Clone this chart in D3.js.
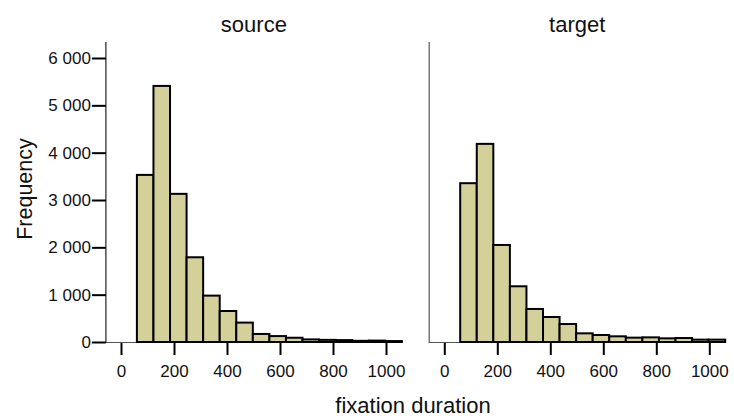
<!DOCTYPE html>
<html>
<head>
<meta charset="utf-8">
<script src="https://cdn.jsdelivr.net/npm/d3@7"></script>
<style>
  body { margin: 0; background: #fff; }
  text { font-family: "Liberation Sans", Arial, sans-serif; fill: #111; }
</style>
</head>
<body>
<svg id="chart" width="734" height="419"></svg>
<script>
// bin edges of the histogram (fixation duration, ms)
const binEdges = [60, 122.5, 185, 247.5, 310, 372.5, 435, 497.5, 560, 622.5, 685, 747.5, 810, 872.5, 935, 997.5, 1060]

// counts per bin
const sourceCounts = [3530, 5410, 3130, 1790, 980, 655, 410, 170, 125, 90, 55, 45, 40, 25, 30, 20]
const targetCounts = [3355, 4186, 2050, 1177, 698, 528, 380, 183, 148, 120, 92, 98, 77, 84, 50, 50]

const panelNames = ["source", "target"]
const xTicks = [0, 200, 400, 600, 800, 1000]
const yTicks = [0, 1000, 2000, 3000, 4000, 5000, 6000]

const svg = d3.select("#chart")

const fmt = d3.formatLocale({ decimal: ".", thousands: " ", grouping: [3], currency: ["", ""] }).format(",d")

const y = d3.scaleLinear()
  .domain([0, 6000])
  .range([342, 58])

const barFill = "#d4d09a"

const styleTicks = (axisG) => {
  axisG.select(".domain").remove()
  axisG.selectAll(".tick line").attr("stroke", "#000").attr("stroke-width", 2)
  axisG.selectAll(".tick text")
    .style("font-size", "17px")
    .style("font-family", "'Liberation Sans', Arial, sans-serif")
    .attr("fill", "#111")
}

const drawPanel = (offset, name, counts, showY) => {
  const x = d3.scaleLinear()
    .domain([0, 1000])
    .range([121 + offset, 386 + offset])

  const left = x(-57), right = x(1060)
  const g = svg.append("g")

  // title
  g.append("text")
    .attr("x", (left + right) / 2)
    .attr("y", 32)
    .attr("text-anchor", "middle")
    .style("font-size", "22px")
    .text(name)

  // baseline
  g.append("line")
    .attr("x1", left).attr("x2", right)
    .attr("y1", y(0) + 0.5).attr("y2", y(0) + 0.5)
    .attr("stroke", "#555")
    .attr("stroke-width", 1)

  // bars
  g.selectAll(".bar")
    .data(counts)
    .enter().append("rect")
      .attr("class", "bar")
      .attr("x", (d, i) => x(binEdges[i]))
      .attr("width", (d, i) => x(binEdges[i + 1]) - x(binEdges[i]))
      .attr("y", d => y(d))
      .attr("height", d => y(0) - y(d))
      .attr("fill", barFill)
      .attr("stroke", "#000")
      .attr("stroke-width", 2)

  // y axis line
  g.append("line")
    .attr("x1", left).attr("x2", left)
    .attr("y1", 42).attr("y2", y(0) + 1)
    .attr("stroke", showY ? "#222" : "#555")
    .attr("stroke-width", 1.2)

  // x axis
  const xAxis = g.append("g")
    .attr("transform", "translate(0," + (y(0) + 1) + ")")
    .call(d3.axisBottom(x).tickValues(xTicks).tickSize(12).tickPadding(10).tickFormat(d3.format("d")))
  styleTicks(xAxis)

  if (showY) {
    const yAxis = g.append("g")
      .attr("transform", "translate(" + left + ",0)")
      .call(d3.axisLeft(y).tickValues(yTicks).tickSize(14).tickPadding(1).tickFormat(fmt))
    styleTicks(yAxis)
  }
}

drawPanel(0, panelNames[0], sourceCounts, true)
drawPanel(323.3, panelNames[1], targetCounts, false)

// axis titles
svg.append("text")
  .attr("transform", "translate(32,189) rotate(-90)")
  .attr("text-anchor", "middle")
  .style("font-size", "21.5px")
  .text("Frequency")

svg.append("text")
  .attr("x", 413)
  .attr("y", 413)
  .attr("text-anchor", "middle")
  .style("font-size", "22px")
  .text("fixation duration")
</script>
</body>
</html>
